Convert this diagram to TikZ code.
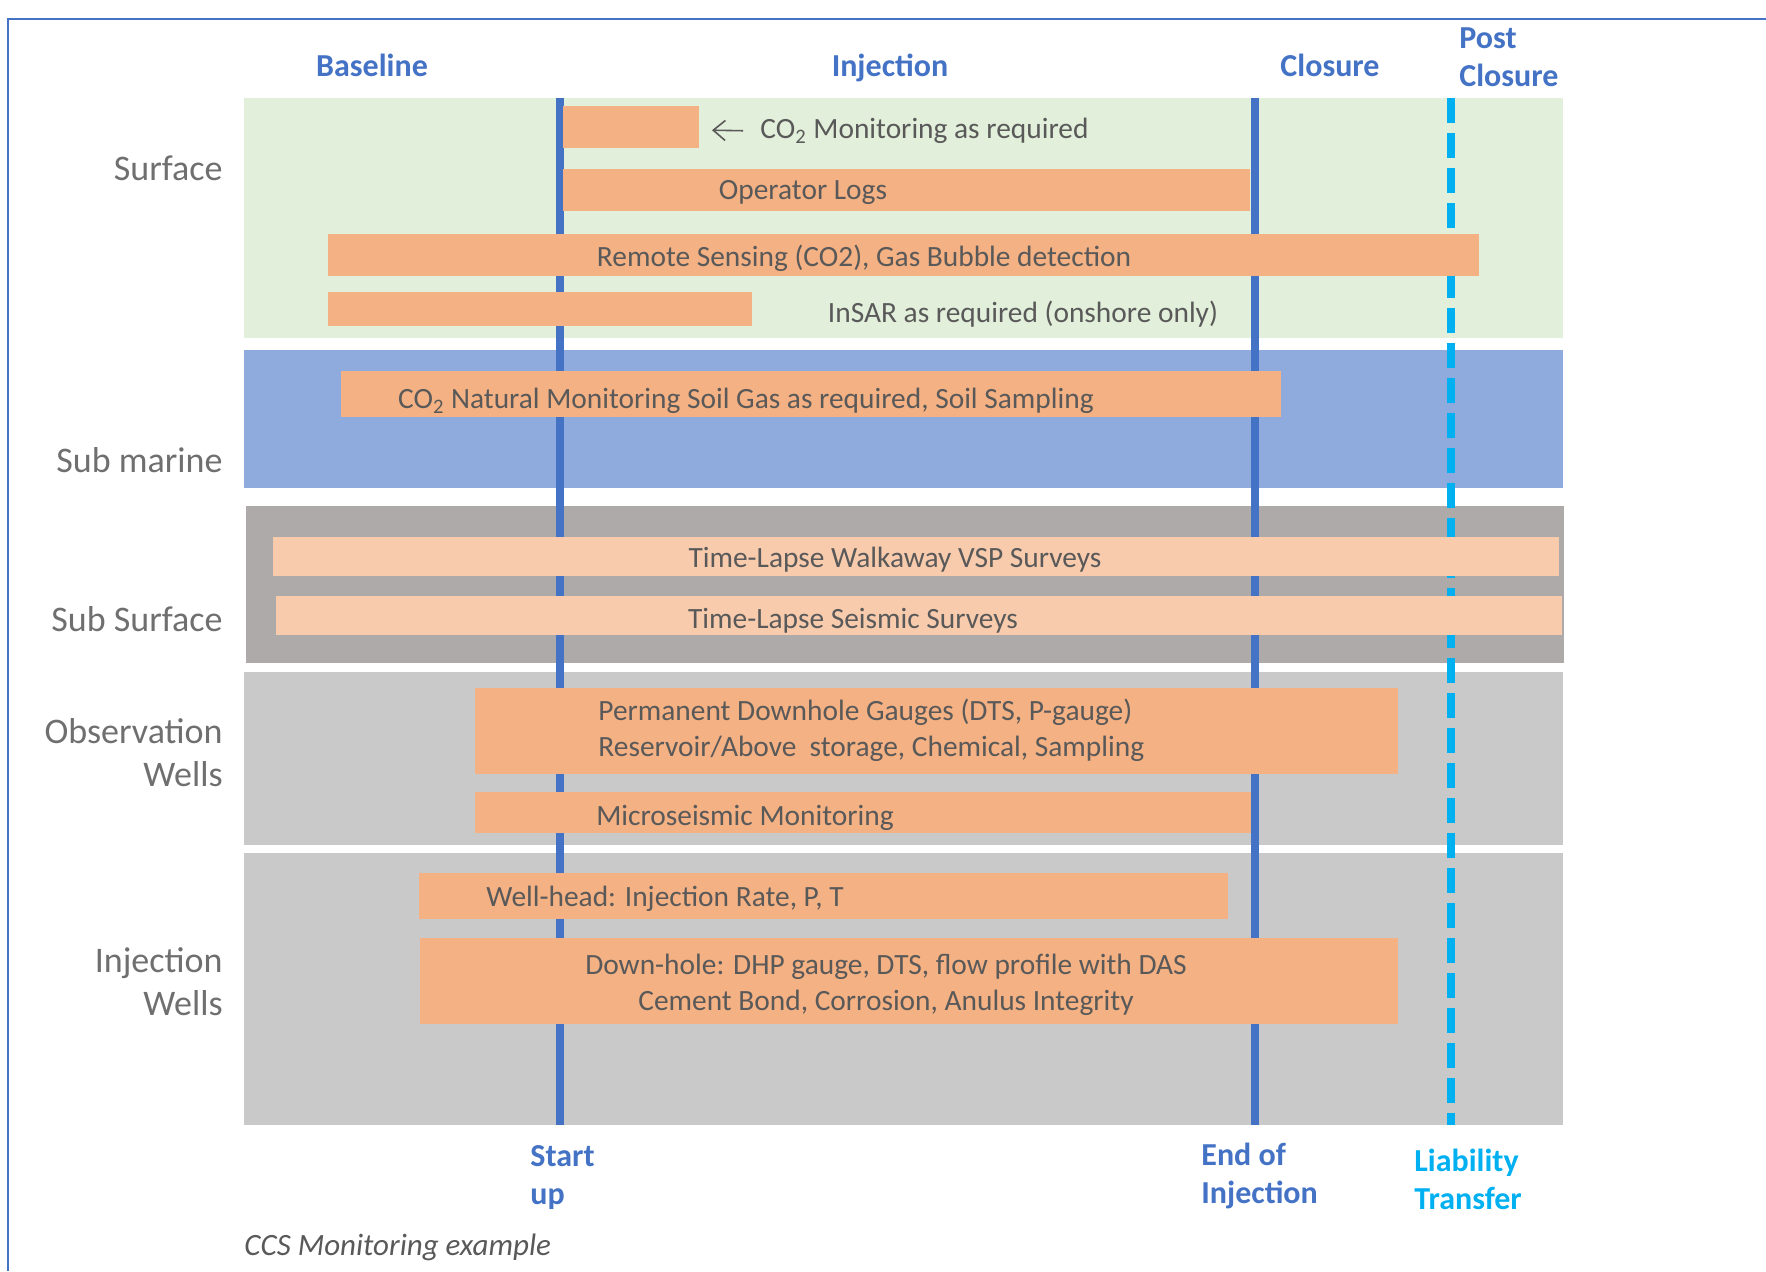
\documentclass[tikz,border=0pt]{standalone}
\usepackage{fontspec}
\setmainfont{Carlito}
\usetikzlibrary{arrows.meta}

\definecolor{phaseblue}{HTML}{4472C4}
\definecolor{liabblue}{HTML}{00B0F0}
\definecolor{surfgreen}{HTML}{E2EFDA}
\definecolor{marineblue}{HTML}{8FAADC}
\definecolor{subgray}{HTML}{AEAAAA}
\definecolor{wellgray}{HTML}{C9C9C9}
\definecolor{taskorange}{HTML}{F4B183}
\definecolor{surveyorange}{HTML}{F8CBAD}
\definecolor{labelgray}{HTML}{6F6F6F}
\definecolor{textgray}{HTML}{595959}

\begin{document}
\begin{tikzpicture}[x=0.5pt,y=-0.5pt,
    phase label/.style={font=\fontsize{16}{19}\selectfont\bfseries,text=phaseblue,inner sep=0pt,align=left},
    row label/.style={font=\fontsize{18}{21.5}\selectfont,text=labelgray,inner sep=0pt,align=right,anchor=east},
    task text/.style={font=\fontsize{14.7}{18}\selectfont,text=textgray,inner sep=0pt},
    milestone/.style={line width=4pt,phaseblue},
    liability/.style={line width=4pt,liabblue,dash pattern=on 12.5pt off 5pt}]
  \useasboundingbox (0,0) rectangle (1766,1271);
  \draw[phaseblue,line width=1.2pt] (1766,19) -- (8,19) -- (8,1271);

  % phases
  \node[phase label] (baseline) at (372,65) {Baseline};
  \node[phase label] (injection) at (890,68) {Injection};
  \node[phase label] (closure) at (1330,65) {Closure};
  \node[phase label,anchor=west] (postclosure) at (1459,57) {Post\\Closure};

  % bands
  \fill[surfgreen] (244,98) rectangle (1563,338);
  \fill[marineblue] (244,350) rectangle (1563,488);
  \fill[subgray] (246,506) rectangle (1564,663);
  \fill[wellgray] (244,672) rectangle (1563,845);
  \fill[wellgray] (244,853) rectangle (1563,1125);

  \node[row label] (surface) at (223,168) {Surface};
  \node[row label] (submarine) at (223,460) {Sub marine};
  \node[row label] (subsurface) at (223,619) {Sub Surface};
  \node[row label] (obswells) at (223,753) {Observation\\Wells};
  \node[row label] (injwells) at (223,982) {Injection\\Wells};

  % milestones
  \draw[milestone] (560,98) -- (560,1125);
  \draw[milestone] (1255,98) -- (1255,1125);
  \draw[liability] (1451,98) -- (1451,1125);

  % tasks
  \fill[taskorange] (563,106) rectangle (699,148);
  \coordinate (co2end) at (699,130);
  \fill[taskorange] (563,169) rectangle (1250,211);
  \fill[taskorange] (328,234) rectangle (1479,276);
  \fill[taskorange] (328,292) rectangle (752,326);
  \fill[taskorange] (341,371) rectangle (1281,417);
  \fill[surveyorange] (273,537) rectangle (1559,576);
  \fill[surveyorange] (276,596) rectangle (1562,635);
  \fill[taskorange] (475,688) rectangle (1398,774);
  \fill[taskorange] (475,792) rectangle (1251,833);
  \fill[taskorange] (419,873) rectangle (1228,919);
  \fill[taskorange] (420,938) rectangle (1398,1024);

  \node[task text,anchor=west] (co2mon) at (760,131) {CO\textsubscript{2} Monitoring as required};
  \draw[-{Straight Barb[length=6pt,width=10pt]},textgray,line width=0.8pt,
        shorten <=8.5pt,shorten >=6.5pt] (co2mon.west) -- (co2end);
  \node[task text] (oplogs) at (803,192) {Operator Logs};
  \node[task text] (remote) at (864,258) {Remote Sensing (CO2), Gas Bubble detection};
  \node[task text] (insar) at (1023,314) {InSAR as required (onshore only)};
  \node[task text] (soilgas) at (746,401) {CO\textsubscript{2} Natural Monitoring Soil Gas as required, Soil Sampling};
  \node[task text] (vsp) at (895,560) {Time-Lapse Walkaway VSP Surveys};
  \node[task text] (seismic) at (853,621) {Time-Lapse Seismic Surveys};
  \node[task text,anchor=west,align=left] (gauges) at (598,730)
    {Permanent Downhole Gauges (DTS, P-gauge)\\Reservoir/Above~ storage, Chemical, Sampling};
  \node[task text] (microseis) at (745,818) {Microseismic Monitoring};
  \node[task text] (wellhead) at (665,899) {Well-head: Injection Rate, P, T};
  \node[task text,align=center] (downhole) at (886,985)
    {Down-hole: DHP gauge, DTS, flow profile with DAS\\Cement Bond, Corrosion, Anulus Integrity};

  % events
  \node[phase label,anchor=west] (startup) at (530,1177) {Start\\up};
  \node[phase label,anchor=west] (endinj) at (1201,1176) {End of\\Injection};
  \node[phase label,anchor=west,text=liabblue] (transfer) at (1414,1179) {Liability\\Transfer};
  \node[task text,anchor=west,font=\fontsize{15.5}{18}\selectfont\itshape] (caption) at (244,1247) {CCS Monitoring example};
\end{tikzpicture}
\end{document}
